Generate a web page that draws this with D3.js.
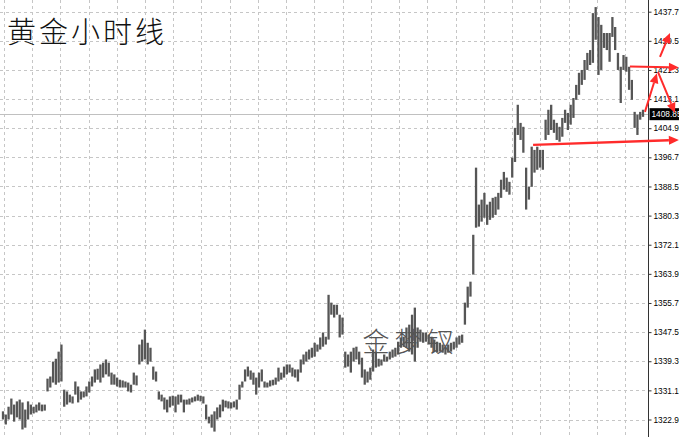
<!DOCTYPE html>
<html><head><meta charset="utf-8">
<script src="https://cdn.jsdelivr.net/npm/d3@7"></script>
<style>html,body{margin:0;padding:0;background:#fff;overflow:hidden}</style>
</head><body>
<svg id="c" width="679" height="437"></svg>
<script>
// ---- data ----
const highs = [1325.2,1324.3,1326.5,1328.8,1327.1,1328.0,1328.5,1327.7,1325.7,1328.0,
1327.1,1326.5,1327.1,1327.7,1327.1,1327.1,1334.4,1335.0,1339.2,1340.0,
1342.0,1344.0,1331.3,1330.8,1329.9,1329.4,1333.6,1332.2,1330.8,1330.8,
1332.2,1333.6,1335.0,1337.0,1337.2,1338.4,1338.9,1339.8,1338.9,1336.1,
1335.6,1334.7,1334.1,1333.9,1333.6,1333.3,1332.7,1336.1,1335.3,1344.0,
1345.4,1348.2,1344.5,1343.1,1337.8,1336.4,1330.8,1329.9,1329.1,1328.5,
1329.4,1329.6,1329.4,1329.9,1329.9,1328.5,1328.5,1328.8,1329.1,1329.4,
1329.9,1329.6,1329.4,1327.1,1323.7,1324.3,1325.2,1326.3,1327.1,1328.5,
1328.2,1328.0,1327.7,1328.0,1328.5,1332.7,1333.6,1337.0,1337.8,1336.7,
1336.1,1334.7,1336.1,1337.0,1333.6,1333.3,1333.9,1334.1,1334.7,1337.5,
1336.1,1337.8,1338.4,1338.4,1337.5,1337.0,1337.0,1339.8,1341.2,1342.0,
1342.6,1343.1,1344.5,1344.0,1346.0,1347.4,1346.2,1358.0,1355.8,1355.2,
1355.2,1352.4,1351.6,1342.0,1341.2,1342.0,1343.1,1343.4,1342.0,1340.3,
1337.0,1336.4,1337.5,1342.6,1342.0,1340.0,1339.8,1341.2,1340.6,1342.0,
1342.6,1343.1,1344.8,1346.0,1346.2,1348.8,1349.6,1352.4,1354.4,1348.8,
1348.2,1347.4,1347.4,1346.8,1346.2,1345.4,1344.8,1344.5,1344.0,1343.4,
1344.0,1344.5,1344.8,1346.0,1346.5,1346.8,1355.8,1360.3,1361.7,1374.9,
1393.8,1383.4,1384.8,1386.7,1383.4,1384.2,1385.3,1385.6,1386.7,1390.4,
1392.6,1391.0,1389.8,1396.6,1405.0,1411.5,1406.4,1405.3,1393.8,1388.4,
1399.7,1398.8,1399.7,1398.8,1398.8,1407.3,1410.1,1411.5,1407.3,1406.4,
1405.3,1407.8,1410.1,1409.2,1411.5,1413.4,1417.1,1420.5,1421.3,1424.1,
1426.1,1426.9,1437.3,1439.0,1436.2,1434.0,1431.7,1431.7,1431.7,1436.2,
1433.4,1426.1,1422.2,1425.5,1425.0,1422.2,1418.5,1409.5,1408.7,1409.5,
1410.1];
const lows = [1322.9,1321.5,1322.9,1324.3,1322.3,1323.5,1322.9,1320.1,1320.6,1322.9,
1324.3,1324.6,1324.9,1325.4,1325.2,1325.4,1330.8,1331.9,1333.3,1332.7,
1333.3,1333.6,1326.5,1327.1,1327.7,1327.4,1329.9,1327.7,1328.5,1329.1,
1329.4,1330.5,1332.2,1333.3,1334.1,1333.3,1334.7,1335.6,1335.0,1332.7,
1332.7,1332.2,1331.9,1331.9,1331.9,1330.8,1330.5,1332.7,1332.5,1338.4,
1339.2,1339.8,1338.4,1339.2,1334.1,1333.6,1328.5,1328.0,1325.7,1324.9,
1326.3,1326.8,1324.9,1327.1,1327.7,1324.9,1327.1,1327.1,1327.7,1328.0,
1328.2,1328.0,1327.4,1322.9,1321.8,1320.6,1319.5,1322.9,1323.5,1325.2,
1326.3,1326.0,1326.0,1326.3,1325.7,1328.5,1331.9,1333.6,1335.0,1334.1,
1332.7,1329.9,1331.9,1333.6,1331.9,1331.9,1332.2,1332.5,1332.7,1333.6,
1334.1,1334.7,1335.6,1336.1,1335.0,1334.7,1333.6,1336.1,1338.4,1339.2,
1339.8,1340.3,1340.6,1342.0,1342.6,1343.4,1344.0,1345.4,1352.4,1351.6,
1352.4,1346.0,1346.8,1337.5,1337.8,1336.1,1339.2,1339.8,1338.4,1334.7,
1332.7,1333.3,1334.1,1336.4,1337.5,1337.8,1338.1,1339.2,1339.2,1339.8,
1340.3,1340.6,1341.2,1343.1,1343.4,1343.1,1342.0,1341.2,1339.2,1343.1,
1344.8,1344.5,1344.8,1344.0,1343.1,1342.0,1341.7,1342.0,1341.7,1341.2,
1341.7,1342.0,1342.6,1343.1,1344.0,1344.5,1349.6,1354.4,1357.5,1363.7,
1376.9,1377.2,1378.6,1379.7,1377.7,1379.1,1379.7,1380.5,1382.0,1385.3,
1387.6,1387.0,1386.2,1391.0,1395.4,1403.0,1401.6,1398.0,1382.0,1384.8,
1388.4,1392.4,1393.2,1393.8,1393.2,1401.6,1403.0,1404.4,1403.6,1401.6,
1401.1,1402.5,1406.4,1404.4,1405.9,1407.8,1412.9,1414.3,1417.1,1418.5,
1421.3,1422.7,1423.3,1429.8,1419.9,1421.3,1427.5,1426.9,1423.6,1430.6,
1426.9,1421.3,1412.0,1421.3,1420.8,1415.7,1412.9,1405.0,1403.0,1407.3,
1408.1];
const tickValues = [1322.9,1331.1,1339.3,1347.5,1355.7,1363.9,1372.1,1380.3,1388.5,1396.7,1404.9,1413.1,1421.3,1429.5,1437.7];
const currentPrice = 1408.85;
const titleText = "黄金小时线";
const watermarkChars = ["金","梦","钗"];
// red hand-drawn arrows: [fromIndex, fromPrice, toIndex, toPrice]
const arrowFrom = [[190.5,1400.2],[225.3,1422.3],[230.7,1409.5],[235.4,1420.7],[236.1,1425.0]];
const arrowTo   = [[242.9,1401.6],[242.9,1422.0],[235.0,1420.4],[241.5,1409.2],[239.7,1431.7]];

// ---- drawing ----
const W = 679, H = 437, axisX = 648.5;
const svg = d3.select("#c");
const n = highs.length;
const x = d3.scaleLinear().domain([0, n - 1]).range([3, 643]);
const y = d3.scaleLinear().domain([1322.9, 1437.7]).range([419.5, 11.7]);

svg.append("rect").attr("width", W).attr("height", H).attr("fill", "#fff");

const grid = svg.append("g");
grid.selectAll("line.h").data(tickValues).enter().append("line")
  .attr("x1", 0).attr("x2", axisX - 1)
  .attr("y1", d => Math.round(y(d)) + 0.5).attr("y2", d => Math.round(y(d)) + 0.5)
  .attr("stroke", "#c6c6c6").attr("stroke-dasharray", "3,3");
const vg = d3.range(0, 23).map(k => 3.8 + 28.24 * k);
grid.selectAll("line.v").data(vg).enter().append("line")
  .attr("x1", d => Math.round(d) + 0.5).attr("x2", d => Math.round(d) + 0.5)
  .attr("y1", 0).attr("y2", H)
  .attr("stroke", "#c6c6c6").attr("stroke-dasharray", "3,3");

svg.append("line").attr("x1", 0).attr("x2", axisX)
  .attr("y1", Math.round(y(currentPrice)) + 0.5).attr("y2", Math.round(y(currentPrice)) + 0.5)
  .attr("stroke", "#c0c0c0");

svg.append("text").attr("x", 7).attr("y", 43)
  .attr("font-family", "'Noto Sans CJK SC'").attr("font-weight", 300)
  .attr("font-size", 29).attr("letter-spacing", 3).attr("fill", "#111")
  .text(titleText);

const bars = svg.append("g");
bars.selectAll("line").data(highs).enter().append("line")
  .attr("x1", (d, i) => x(i)).attr("x2", (d, i) => x(i))
  .attr("y1", d => y(d)).attr("y2", (d, i) => y(lows[i]))
  .attr("stroke", "#565656").attr("stroke-width", 2.3);

svg.append("g").selectAll("text").data(watermarkChars).enter().append("text")
  .attr("x", (d, i) => 376 + 32 * i).attr("y", 352)
  .attr("text-anchor", "middle")
  .attr("font-family", "'Noto Sans CJK SC'").attr("font-weight", 300)
  .attr("font-size", 27).attr("fill", "#555")
  .text(d => d);

svg.append("line").attr("x1", axisX).attr("x2", axisX).attr("y1", 0).attr("y2", H)
  .attr("stroke", "#333");
const ax = svg.append("g").attr("transform", `translate(${axisX},0)`)
  .call(d3.axisRight(y).tickValues(tickValues).tickSize(3).tickPadding(2)
    .tickFormat(d => d.toFixed(2)));
ax.select(".domain").remove();
ax.selectAll(".tick line").attr("stroke", "#333");
ax.selectAll(".tick text").attr("font-family", "'Liberation Sans', Arial, sans-serif")
  .attr("font-size", 8.3).attr("fill", "#000");

const cy = y(currentPrice);
svg.append("rect").attr("x", axisX + 1).attr("y", cy - 6).attr("width", 32).attr("height", 12).attr("fill", "#000");
svg.append("text").attr("x", axisX + 3).attr("y", cy + 3)
  .attr("font-family", "'Liberation Sans', Arial, sans-serif").attr("font-size", 8.3)
  .attr("fill", "#fff").text(currentPrice.toFixed(2));

const red = "#ff2b2b";
const ag = svg.append("g");
arrowFrom.forEach((f, k) => {
  const t = arrowTo[k];
  const x0 = x(f[0]), y0 = y(f[1]), x1 = x(t[0]), y1 = y(t[1]);
  const ang = Math.atan2(y1 - y0, x1 - x0);
  const L = 10, hw = 4.5;
  const bx = x1 - L * Math.cos(ang), by = y1 - L * Math.sin(ang);
  ag.append("line").attr("x1", x0).attr("y1", y0).attr("x2", bx).attr("y2", by)
    .attr("stroke", red).attr("stroke-width", k === 0 ? 2.4 : 2);
  const px = -Math.sin(ang), py = Math.cos(ang);
  ag.append("polygon")
    .attr("points", [[x1, y1], [bx + hw * px, by + hw * py], [bx - hw * px, by - hw * py]].map(p => p.join(",")).join(" "))
    .attr("fill", red);
});
</script>
</body></html>
